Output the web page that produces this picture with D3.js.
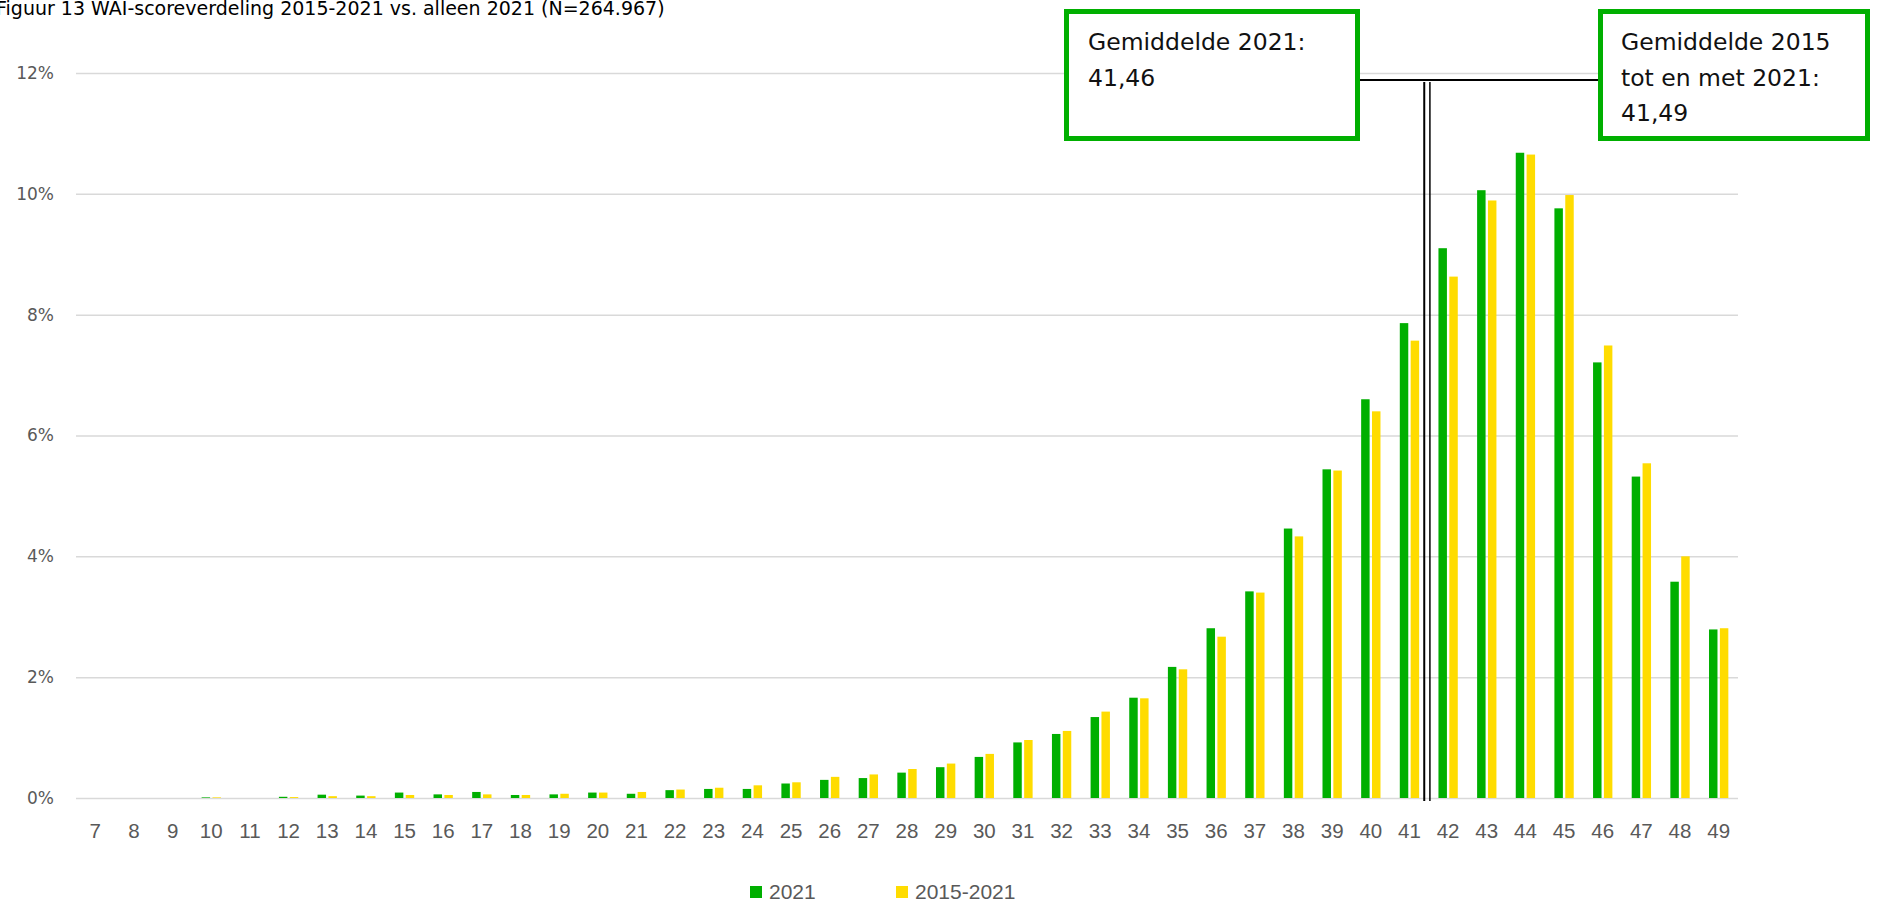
<!DOCTYPE html>
<html>
<head>
<meta charset="utf-8">
<script src="https://cdn.jsdelivr.net/npm/d3@7"></script>
<style>
  html, body { margin: 0; padding: 0; background: #fff; }
  svg { display: block; }
</style>
</head>
<body>
<svg id="chart" width="1885" height="908"></svg>
<script>
// ---- data ----
const title = "Figuur 13 WAI-scoreverdeling 2015-2021 vs. alleen 2021 (N=264.967)";
const categories = ["7","8","9","10","11","12","13","14","15","16","17","18","19","20","21","22","23","24","25","26","27","28","29","30","31","32","33","34","35","36","37","38","39","40","41","42","43","44","45","46","47","48","49"];
const seriesNames = ["2021", "2015-2021"];
const values2021 = [0,0,0,0.01,0,0.02,0.055,0.04,0.09,0.06,0.10,0.05,0.06,0.09,0.07,0.13,0.15,0.15,0.24,0.30,0.33,0.42,0.51,0.68,0.92,1.06,1.34,1.66,2.17,2.81,3.42,4.46,5.44,6.60,7.86,9.10,10.06,10.68,9.76,7.21,5.32,3.58,2.79];
const values2015_2021 = [0,0,0,0.01,0,0.015,0.03,0.03,0.05,0.05,0.06,0.05,0.07,0.09,0.10,0.14,0.17,0.21,0.26,0.35,0.39,0.48,0.57,0.73,0.96,1.11,1.43,1.65,2.13,2.67,3.40,4.33,5.42,6.40,7.57,8.63,9.89,10.65,9.98,7.49,5.54,4.00,2.81];
const yTicks = [0, 2, 4, 6, 8, 10, 12];
const mean2021 = 41.46;
const meanAll = 41.49;
const annotationLeft = ["Gemiddelde 2021:", "41,46"];
const annotationRight = ["Gemiddelde 2015", "tot en met 2021:", "41,49"];
const colors = ["#00AF00", "#FFDC00"];

// ---- layout ----
const svg = d3.select("#chart");
const plot = { left: 76, right: 1738, top: 73, bottom: 798 };

const x0 = d3.scaleBand().domain(categories).range([plot.left, plot.right]).paddingInner(0.5).paddingOuter(0.25);
const x1 = d3.scaleBand().domain(seriesNames).range([0, x0.bandwidth()]).paddingInner(0.22);
const y = d3.scaleLinear().domain([0, 12]).range([plot.bottom, plot.top]);
const xCont = d3.scaleLinear().domain([+categories[0], +categories[categories.length - 1]])
  .range([x0(categories[0]) + x0.bandwidth() / 2, x0(categories[categories.length - 1]) + x0.bandwidth() / 2]);

// title
svg.append("text").attr("x", -4).attr("y", 15)
  .attr("font-family", "DejaVu Sans").attr("font-size", 19).attr("fill", "#000")
  .text(title);

// gridlines + y labels
const yAxis = d3.axisLeft(y).tickValues(yTicks).tickSize(-(plot.right - plot.left)).tickFormat(d => d + "%").tickPadding(22);
const gy = svg.append("g").attr("transform", `translate(${plot.left},0)`).call(yAxis);
gy.select(".domain").remove();
gy.selectAll(".tick line").attr("stroke", "#d9d9d9").attr("stroke-width", 1.5);
gy.selectAll(".tick text").attr("font-family", "DejaVu Sans").attr("font-size", 17).attr("fill", "#595959");

// x axis labels
const xAxis = d3.axisBottom(x0).tickSize(0).tickPadding(25);
const gx = svg.append("g").attr("transform", `translate(0,${plot.bottom})`).call(xAxis);
gx.select(".domain").remove();
gx.selectAll(".tick text").attr("font-family", "Liberation Sans").attr("font-size", 20.5).attr("fill", "#595959");

// bars
const rows = categories.map((c, i) => ({ cat: c, vals: [values2021[i], values2015_2021[i]] }));
const groups = svg.append("g").selectAll("g").data(rows).join("g")
  .attr("transform", d => `translate(${x0(d.cat)},0)`);
groups.selectAll("rect").data(d => d.vals.map((v, k) => ({ v, k }))).join("rect")
  .attr("x", d => x1(seriesNames[d.k]))
  .attr("width", x1.bandwidth())
  .attr("y", d => y(d.v))
  .attr("height", d => y(0) - y(d.v))
  .attr("fill", d => colors[d.k]);

// mean lines
const lineTop = 82, lineBottom = 801;
[[mean2021, -3, 2], [meanAll, 1.5, 1.5]].forEach(([m, off, w]) => {
  svg.append("line")
    .attr("x1", xCont(m) + off).attr("x2", xCont(m) + off)
    .attr("y1", lineTop).attr("y2", lineBottom)
    .attr("stroke", "#000").attr("stroke-width", w);
});

// annotation boxes
const boxL = { x: 1066.5, y: 11.5, w: 291, h: 127 };
const boxR = { x: 1600.5, y: 11.5, w: 267, h: 127 };
svg.append("line").attr("x1", boxL.x + boxL.w).attr("x2", boxR.x).attr("y1", 80).attr("y2", 80)
  .attr("stroke", "#000").attr("stroke-width", 2);
[boxL, boxR].forEach(b => {
  svg.append("rect").attr("x", b.x).attr("y", b.y).attr("width", b.w).attr("height", b.h)
    .attr("fill", "#fff").attr("stroke", colors[0]).attr("stroke-width", 5);
});
const annText = (lines, x) => {
  const t = svg.append("text").attr("font-family", "DejaVu Sans").attr("font-size", 23.5).attr("fill", "#111");
  lines.forEach((l, i) => t.append("tspan").attr("x", x).attr("y", 50 + i * 35.5).text(l));
};
annText(annotationLeft, 1088);
annText(annotationRight, 1621);

// legend
const legendX = [750, 896];
seriesNames.forEach((s, k) => {
  svg.append("rect").attr("x", legendX[k]).attr("y", 886).attr("width", 12).attr("height", 12).attr("fill", colors[k]);
  svg.append("text").attr("x", legendX[k] + 19).attr("y", 899)
    .attr("font-family", "Liberation Sans").attr("font-size", 21).attr("fill", "#595959").text(s);
});
</script>
</body>
</html>
